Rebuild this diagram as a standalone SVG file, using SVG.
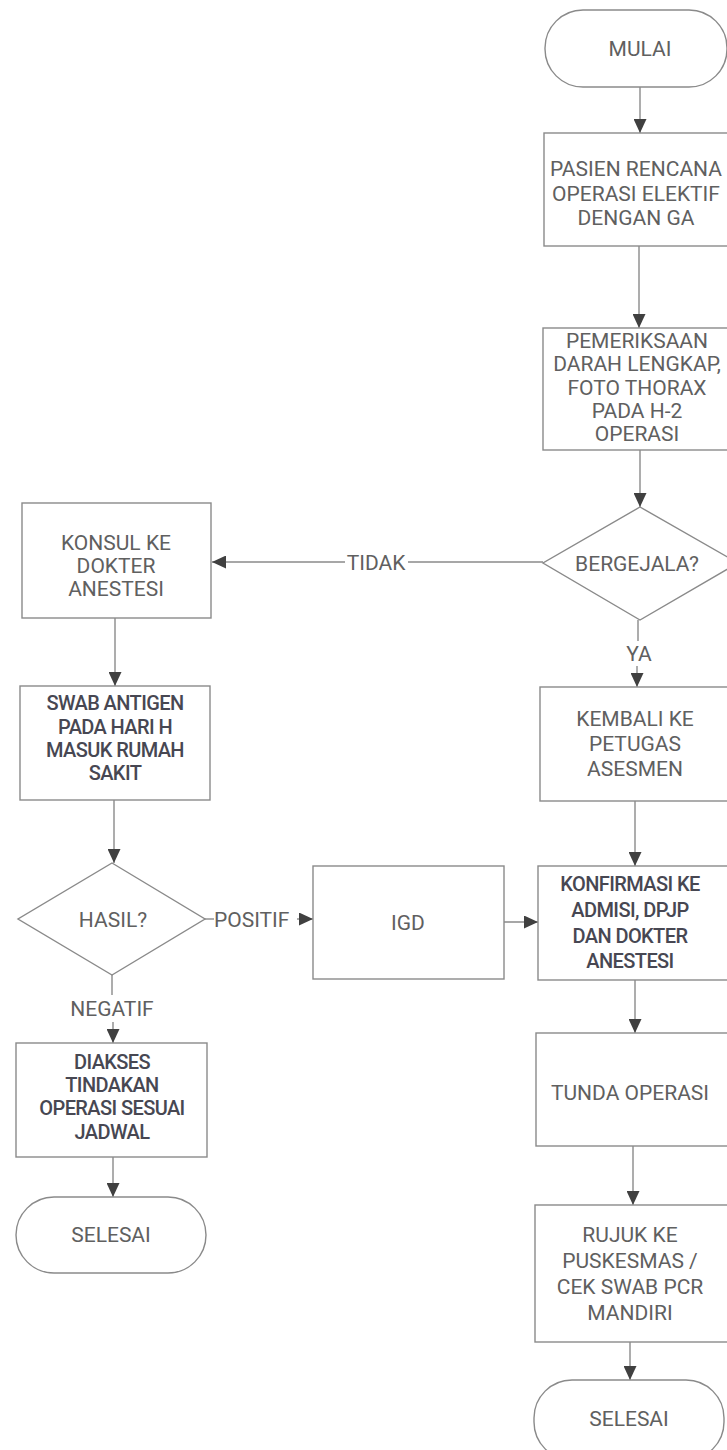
<svg xmlns="http://www.w3.org/2000/svg" width="727" height="1450" viewBox="0 0 727 1450">
<style>
.shape{fill:#fff;stroke:#8a8a8a;stroke-width:1.4}
.line{fill:none;stroke:#8a8a8a;stroke-width:1.4}
.arr{marker-end:url(#ah)}
text{font-family:Roboto,"Liberation Sans",sans-serif;font-size:21px;font-weight:400;fill:#606060;text-anchor:middle}
text.b{font-size:20px;font-weight:500;fill:#474752;letter-spacing:-0.6px}
</style>
<defs>
<marker id="ah" markerUnits="userSpaceOnUse" markerWidth="14" markerHeight="13" refX="14" refY="6.5" orient="auto">
<path d="M0,0 L14,6.5 L0,13 z" fill="#404040"/>
</marker>
</defs>
<rect width="727" height="1450" fill="#fff"/>
<g id="connectors">
<line class="line arr" x1="640" y1="87" x2="640" y2="133"/>
<line class="line arr" x1="639" y1="246" x2="639" y2="328"/>
<line class="line arr" x1="640" y1="450" x2="640" y2="507"/>
<line class="line" x1="543" y1="562" x2="408" y2="562"/>
<line class="line arr" x1="345" y1="562" x2="212" y2="562"/>
<text x="376" y="570">TIDAK</text>
<line class="line" x1="638" y1="620" x2="638" y2="641"/>
<text x="639" y="661">YA</text>
<line class="line arr" x1="637" y1="666" x2="637" y2="687"/>
<line class="line arr" x1="635" y1="801" x2="635" y2="866"/>
<line class="line arr" x1="635" y1="980" x2="635" y2="1033"/>
<line class="line arr" x1="633" y1="1146" x2="633" y2="1205"/>
<line class="line arr" x1="630" y1="1342" x2="630" y2="1380"/>
<line class="line arr" x1="115" y1="618" x2="115" y2="686"/>
<line class="line arr" x1="114" y1="800" x2="114" y2="863"/>
<line class="line" x1="205" y1="919" x2="214" y2="919"/>
<text x="214" y="927" style="text-anchor:start">POSITIF</text>
<line class="line arr" x1="297" y1="919" x2="313" y2="919"/>
<line class="line arr" x1="504" y1="922" x2="538" y2="922"/>
<line class="line" x1="112" y1="975" x2="112" y2="995"/>
<text x="112" y="1016">NEGATIF</text>
<line class="line arr" x1="113" y1="1022" x2="113" y2="1043"/>
<line class="line arr" x1="113" y1="1157" x2="113" y2="1197"/>
</g>
<g id="mulai">
<rect class="shape" x="545" y="10" width="182" height="77" rx="38" ry="38"/>
<text x="640" y="56">MULAI</text>
</g>
<g id="pasien">
<rect class="shape" x="544" y="133" width="186" height="113"/>
<text x="636" y="176">PASIEN RENCANA</text>
<text x="636" y="201">OPERASI ELEKTIF</text>
<text x="636" y="225">DENGAN GA</text>
</g>
<g id="pemeriksaan">
<rect class="shape" x="543" y="328" width="187" height="122"/>
<text x="637" y="348">PEMERIKSAAN</text>
<text x="637" y="371">DARAH LENGKAP,</text>
<text x="637" y="395">FOTO THORAX</text>
<text x="637" y="418">PADA H-2</text>
<text x="637" y="441">OPERASI</text>
</g>
<g id="bergejala">
<polygon class="shape" points="640,507 738,563 640,620 543,563"/>
<text x="637" y="571">BERGEJALA?</text>
</g>
<g id="kembali">
<rect class="shape" x="540" y="687" width="190" height="114"/>
<text x="635" y="726">KEMBALI KE</text>
<text x="635" y="751">PETUGAS</text>
<text x="635" y="776">ASESMEN</text>
</g>
<g id="konfirmasi">
<rect class="shape" x="538" y="866" width="192" height="114"/>
<text class="b" x="630" y="891">KONFIRMASI KE</text>
<text class="b" x="630" y="917">ADMISI, DPJP</text>
<text class="b" x="630" y="943">DAN DOKTER</text>
<text class="b" x="630" y="968">ANESTESI</text>
</g>
<g id="tunda">
<rect class="shape" x="536" y="1033" width="194" height="113"/>
<text x="630" y="1100">TUNDA OPERASI</text>
</g>
<g id="rujuk">
<rect class="shape" x="535" y="1205" width="195" height="137"/>
<text x="630" y="1242">RUJUK KE</text>
<text x="630" y="1268">PUSKESMAS /</text>
<text x="630" y="1294">CEK SWAB PCR</text>
<text x="630" y="1320">MANDIRI</text>
</g>
<g id="selesai-kanan">
<rect class="shape" x="534" y="1380" width="190" height="80" rx="38" ry="38"/>
<text x="629" y="1426">SELESAI</text>
</g>
<g id="konsul">
<rect class="shape" x="22" y="503" width="189" height="115"/>
<text x="116" y="550">KONSUL KE</text>
<text x="116" y="573">DOKTER</text>
<text x="116" y="596">ANESTESI</text>
</g>
<g id="swab">
<rect class="shape" x="20" y="686" width="190" height="114"/>
<text class="b" x="115" y="710">SWAB ANTIGEN</text>
<text class="b" x="115" y="734">PADA HARI H</text>
<text class="b" x="115" y="757">MASUK RUMAH</text>
<text class="b" x="115" y="780">SAKIT</text>
</g>
<g id="hasil">
<polygon class="shape" points="112,863 205,919 112,975 18,919"/>
<text x="113" y="927">HASIL?</text>
</g>
<g id="igd">
<rect class="shape" x="313" y="866" width="191" height="113"/>
<text x="408" y="930">IGD</text>
</g>
<g id="diakses">
<rect class="shape" x="16" y="1043" width="191" height="114"/>
<text class="b" x="112" y="1069">DIAKSES</text>
<text class="b" x="112" y="1092">TINDAKAN</text>
<text class="b" x="112" y="1115">OPERASI SESUAI</text>
<text class="b" x="112" y="1139">JADWAL</text>
</g>
<g id="selesai-kiri">
<rect class="shape" x="16" y="1197" width="190" height="76" rx="38" ry="38"/>
<text x="111" y="1242">SELESAI</text>
</g>
</svg>
